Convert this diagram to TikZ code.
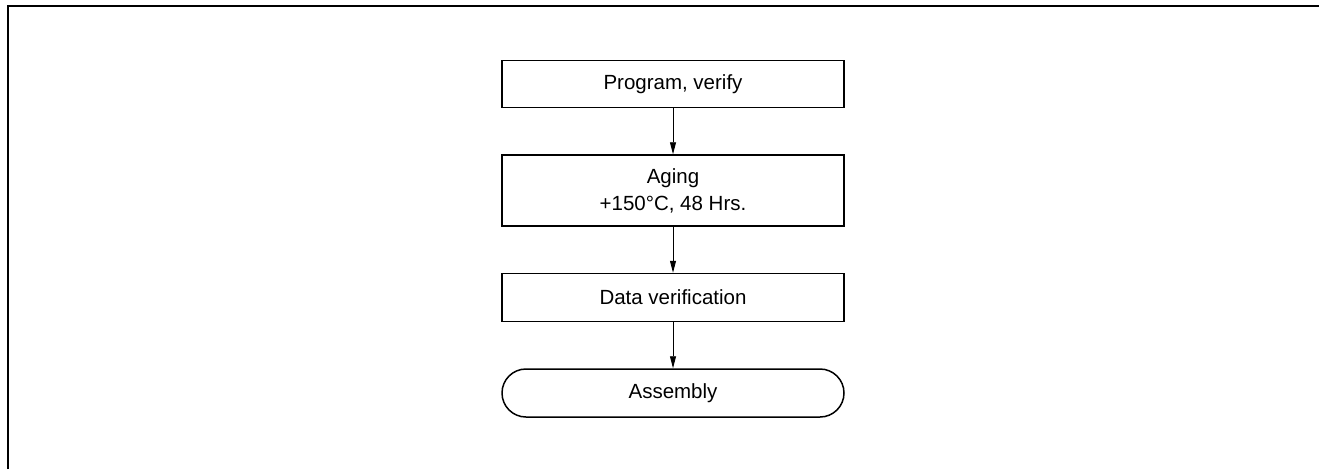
\documentclass[tikz,border=0pt]{standalone}
\usepackage{fontspec}
\setmainfont{Liberation Sans}
\usetikzlibrary{positioning,arrows.meta}

\begin{document}
\begin{tikzpicture}[x=1pt, y=1pt,
    etape/.style={draw, line width=1.5pt, minimum width=342pt, align=center,
        font=\fontsize{20.5}{27}\selectfont, inner sep=0pt},
    fin/.style={etape, rounded corners=24pt},
    fleche/.style={line width=0.9pt, -{Triangle[length=12pt, width=6pt]}}]
    % Cadre de la page
    \useasboundingbox (0,0) rectangle (1319,-469);
    \draw[line width=1.4pt] (8,-469) -- (8,-6) -- (1319,-6);

    % Etapes du processus
    \node[etape, minimum height=47pt] (prog) at (673,-84) {Program, verify};
    \node[etape, minimum height=71pt, below=46pt of prog] (aging) {Aging\\+150°C, 48 Hrs.};
    \node[etape, minimum height=48pt, below=46pt of aging] (verif) {Data verification};
    \node[fin, minimum height=48pt, below=46pt of verif] (assem) {Assembly};

    % Fleches entre les etapes
    \draw[fleche] (prog) -- (aging);
    \draw[fleche] (aging) -- (verif);
    \draw[fleche] (verif) -- (assem);
\end{tikzpicture}
\end{document}
